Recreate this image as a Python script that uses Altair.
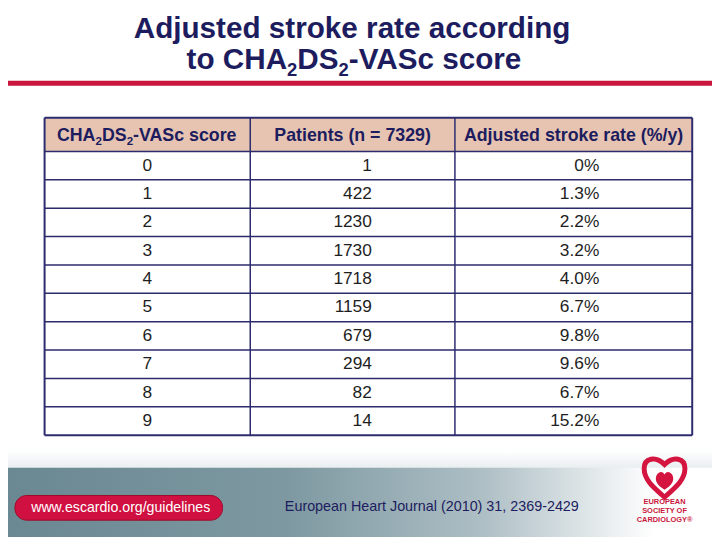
import altair as alt
import pandas as pd

# ---------------- data ----------------
title_line1 = "Adjusted stroke rate according"
# (text, is_subscript) segments of "to CHA2DS2-VASc score"
title_line2 = [("to CHA", False), ("2", True), ("DS", False), ("2", True), ("-VASc score", False)]
header1 = [("CHA", False), ("2", True), ("DS", False), ("2", True), ("-VASc score", False)]
headers_other = ["Patients (n = 7329)", "Adjusted stroke rate (%/y)"]
scores = ["0", "1", "2", "3", "4", "5", "6", "7", "8", "9"]
patients = [1, 422, 1230, 1730, 1718, 1159, 679, 294, 82, 14]
rates = [0, 1.3, 2.2, 3.2, 4.0, 6.7, 9.8, 9.6, 6.7, 15.2]
footer_url = "www.escardio.org/guidelines"
footer_ref = "European Heart Journal (2010) 31, 2369-2429"
logo_lines = ["EUROPEAN", "SOCIETY OF", "CARDIOLOGY\u00ae"]

# ---------------- layout ----------------
W, H = 720, 540
M = 8
XS = alt.Scale(domain=[M, W], nice=False, zero=False)
YS = alt.Scale(domain=[M, H], nice=False, zero=False, reverse=True)
NAVY = "#1c1c5e"
LINE = "#2b2b6e"
FONT = "Liberation Sans"

# Arial Bold advance widths (per 1000 em) used to place subscript segments
BOLD_W = {"t": 333, "o": 611, " ": 278, "C": 722, "H": 722, "A": 722, "D": 722,
          "S": 667, "2": 556, "-": 333, "V": 667, "s": 556, "c": 556, "r": 389,
          "e": 556}


def seg_layout(segs, size, sub_ratio, center_x, base_y, sub_drop):
    rows, widths = [], []
    for t, sub in segs:
        fs = size * sub_ratio if sub else size
        widths.append(sum(BOLD_W[ch] for ch in t) / 1000 * fs)
    x = center_x - sum(widths) / 2
    for (t, sub), w in zip(segs, widths):
        rows.append({"t": t, "x": x, "y": base_y + (sub_drop if sub else 0),
                     "s": size * sub_ratio if sub else size})
        x += w
    return pd.DataFrame(rows)


col_edges = [45, 253, 460, 700]
table_top, header_h, row_h = 116, 34, 28.7
body_top = table_top + header_h
n = len(scores)
table_bottom = body_top + row_h * n


def X(f="x"):
    return alt.X(f, type="quantitative", scale=XS, axis=None)


def Y(f="y"):
    return alt.Y(f, type="quantitative", scale=YS, axis=None)


layers = []

# footer gradient background
footer = pd.DataFrame({"x": [0], "x2": [W], "y": [468], "y2": [H]})
layers.append(
    alt.Chart(footer).mark_rect(
        color=alt.Gradient(
            gradient="linear",
            stops=[
                alt.GradientStop(color="#6a8892", offset=0),
                alt.GradientStop(color="#7d98a1", offset=0.4),
                alt.GradientStop(color="#aebfc5", offset=0.68),
                alt.GradientStop(color="#ffffff", offset=0.92),
            ],
            x1=0, x2=1, y1=0, y2=0,
        )
    ).encode(x=X(), x2="x2", y=Y(), y2="y2")
)
swoosh = pd.DataFrame({"x": [0], "x2": [W], "y": [452], "y2": [470]})
layers.append(
    alt.Chart(swoosh).mark_rect(
        color=alt.Gradient(
            gradient="linear",
            stops=[alt.GradientStop(color="#ffffff", offset=0),
                   alt.GradientStop(color="#e9eef0", offset=1)],
            x1=0, x2=0, y1=0, y2=1,
        )
    ).encode(x=X(), x2="x2", y=Y(), y2="y2")
)

# title
TS = 30
t1 = pd.DataFrame({"t": [title_line1], "x": [356], "y": [35], "s": [TS]})
t2 = seg_layout(title_line2, TS, 0.62, 359, 67, 7)
for d in (t1, t2):
    layers.append(
        alt.Chart(d).mark_text(font=FONT, fontWeight="bold", color=NAVY,
                               align="left" if d is t2 else "center", baseline="alphabetic")
        .encode(x=X(), y=Y(), text="t:N", size=alt.Size("s:Q", scale=None))
    )

# red rule under title
rdf = pd.DataFrame({"x": [0], "x2": [W], "y": [81]})
layers.append(
    alt.Chart(rdf).mark_rule(color="#c8163c", strokeWidth=5)
    .encode(x=X(), x2="x2", y=Y())
)

# header / body backgrounds
hdf = pd.DataFrame({"x": [col_edges[0]], "x2": [col_edges[-1]], "y": [table_top], "y2": [body_top]})
layers.append(
    alt.Chart(hdf).mark_rect(color="#e7c4b2").encode(x=X(), x2="x2", y=Y(), y2="y2")
)
bdf = pd.DataFrame({"x": [col_edges[0]], "x2": [col_edges[-1]], "y": [body_top], "y2": [table_bottom]})
layers.append(
    alt.Chart(bdf).mark_rect(color="#ffffff").encode(x=X(), x2="x2", y=Y(), y2="y2")
)

# grid lines
hl = [table_top] + [body_top + row_h * i for i in range(n + 1)]
hdf_lines = pd.DataFrame({"x": col_edges[0], "x2": col_edges[-1], "y": hl,
                          "w": [2] + [1.5] * n + [2]})
layers.append(
    alt.Chart(hdf_lines).mark_rule(color=LINE)
    .encode(x=X(), x2="x2", y=Y(), strokeWidth=alt.StrokeWidth("w:Q", scale=None))
)
vdf = pd.DataFrame({"x": col_edges, "y": table_top, "y2": table_bottom,
                    "w": [2, 1.5, 1.5, 2]})
layers.append(
    alt.Chart(vdf).mark_rule(color=LINE)
    .encode(x=X(), y=Y(), y2="y2", strokeWidth=alt.StrokeWidth("w:Q", scale=None))
)

# header text
hcenters = [(col_edges[i] + col_edges[i + 1]) / 2 for i in range(3)]
h1 = seg_layout(header1, 18, 0.65, hcenters[0], 139.5, 4)
layers.append(
    alt.Chart(h1).mark_text(font=FONT, fontWeight="bold", color=NAVY,
                            align="left", baseline="alphabetic")
    .encode(x=X(), y=Y(), text="t:N", size=alt.Size("s:Q", scale=None))
)
htdf = pd.DataFrame({"t": headers_other, "x": hcenters[1:], "y": 139.5})
layers.append(
    alt.Chart(htdf).mark_text(font=FONT, fontSize=18, fontWeight="bold", color=NAVY,
                              align="center", baseline="alphabetic")
    .encode(x=X(), y=Y(), text="t:N")
)

# body text
ys = [body_top + row_h * (i + 0.5) for i in range(n)]
rate_labels = ["0%" if r == 0 else f"{r:.1f}%" for r in rates]
c1 = pd.DataFrame({"t": scores, "x": hcenters[0], "y": ys})
c2 = pd.DataFrame({"t": [str(p) for p in patients], "x": 376, "y": ys})
c3 = pd.DataFrame({"t": rate_labels, "x": 606, "y": ys})
for d, al in [(c1, "center"), (c2, "right"), (c3, "right")]:
    layers.append(
        alt.Chart(d).mark_text(font=FONT, fontSize=17.5, color="#1e1e1e",
                               align=al, baseline="middle")
        .encode(x=X(), y=Y(), text="t:N")
    )

# footer red button
btn = pd.DataFrame({"x": [15], "x2": [225], "y": [498], "y2": [523]})
layers.append(
    alt.Chart(btn).mark_rect(color="#cf1040", cornerRadius=12, stroke="#9e0a2c", strokeWidth=1)
    .encode(x=X(), x2="x2", y=Y(), y2="y2")
)
btxt = pd.DataFrame({"t": [footer_url], "x": [122], "y": [511]})
layers.append(
    alt.Chart(btxt).mark_text(font=FONT, fontSize=14.3, color="#ffffff",
                              align="center", baseline="middle")
    .encode(x=X(), y=Y(), text="t:N")
)
jtxt = pd.DataFrame({"t": [footer_ref], "x": [288], "y": [510]})
layers.append(
    alt.Chart(jtxt).mark_text(font=FONT, fontSize=14.5, color=NAVY,
                              align="left", baseline="middle")
    .encode(x=X(), y=Y(), text="t:N")
)

# ESC logo
heart = ("M0,1 C-0.45,0.6 -1,0.2 -1,-0.4 C-1,-0.9 -0.45,-1.05 0,-0.6 "
         "C0.45,-1.05 1,-0.9 1,-0.4 C1,0.2 0.45,0.6 0,1 Z")
drop = ("M0,1 C-0.7,0.6 -1,0.1 -0.8,-0.4 C-0.6,-0.8 -0.2,-0.9 0,-0.5 "
        "C0.2,-0.9 0.6,-0.8 0.8,-0.4 C1,0.1 0.7,0.6 0,1 Z")
lg = pd.DataFrame({"x": [672], "y": [479]})
layers.append(
    alt.Chart(lg).mark_point(shape=heart, size=1700, filled=False, color="#d4153f",
                             strokeWidth=5, opacity=1)
    .encode(x=X(), y=Y())
)
layers.append(
    alt.Chart(lg).mark_point(shape=drop, size=420, filled=True, color="#d4153f", opacity=1)
    .encode(x=X(), y=alt.Y("y2:Q", scale=YS, axis=None))
    .transform_calculate(y2="datum.y + 3")
)
ltxt = pd.DataFrame({"t": logo_lines, "x": 672, "y": [505, 514, 523]})
layers.append(
    alt.Chart(ltxt).mark_text(font=FONT, fontSize=7.5, fontWeight="bold", color="#c8163c",
                              align="center", baseline="middle")
    .encode(x=X(), y=Y(), text="t:N")
)

chart = alt.layer(*layers).properties(
    width=W - M, height=H - M, padding=0, autosize="none", background="#ffffff"
).configure_view(strokeWidth=0)

chart.save("out.html", embed_options={"renderer": "svg", "actions": False})
